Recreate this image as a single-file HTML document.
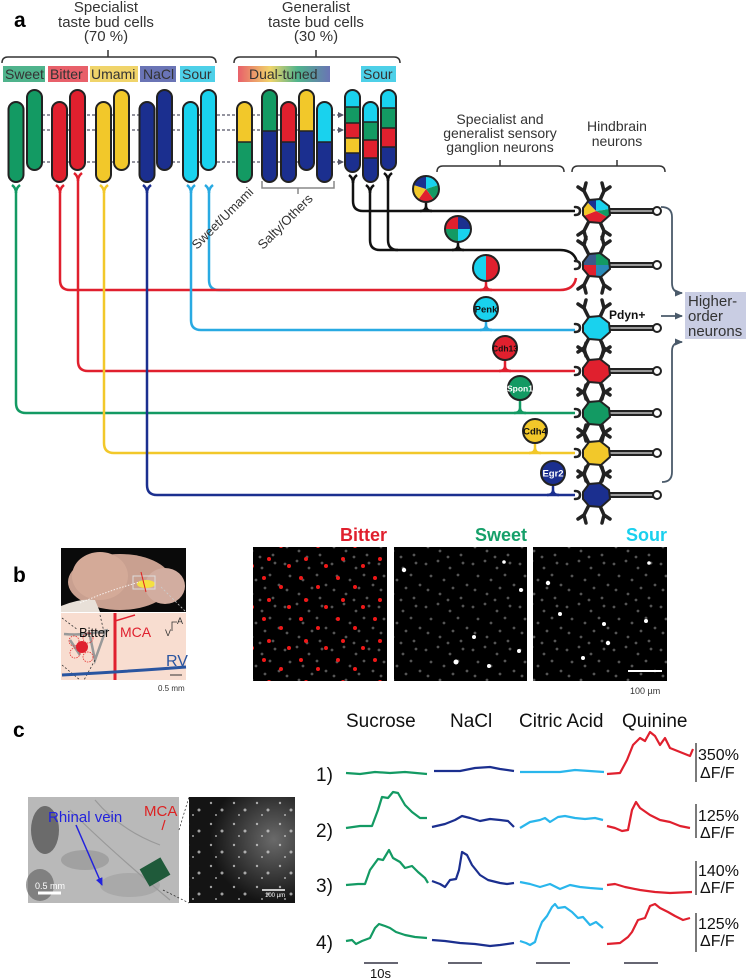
<!DOCTYPE html>
<html><head><meta charset="utf-8"><style>
html,body{margin:0;padding:0;background:#fff}
svg{display:block}
text{font-family:"Liberation Sans",sans-serif}
.n{font-family:"Liberation Sans Narrow","Liberation Sans",sans-serif}
</style></head><body>
<svg width="746" height="979" viewBox="0 0 746 979" xmlns="http://www.w3.org/2000/svg">
<defs>
<linearGradient id="dual" x1="0" x2="1" y1="0" y2="0">
<stop offset="0" stop-color="#e8606a"/><stop offset="0.35" stop-color="#f0d46a"/><stop offset="0.65" stop-color="#4fb38c"/><stop offset="1" stop-color="#6a74b5"/></linearGradient>
<marker id="ar" markerUnits="userSpaceOnUse" markerWidth="6" markerHeight="6" refX="5" refY="3" orient="auto"><path d="M0,0 L6,3 L0,6 Z" fill="#556"/></marker>
<marker id="ar2" markerUnits="userSpaceOnUse" markerWidth="8" markerHeight="8" refX="7" refY="4" orient="auto"><path d="M0,0.5 L8,4 L0,7.5 Z" fill="#4a5a6a"/></marker>
<marker id="ar3" markerUnits="userSpaceOnUse" markerWidth="8" markerHeight="8" refX="7" refY="4" orient="auto"><path d="M0,0.5 L8,4 L0,7.5 Z" fill="#2222dd"/></marker>
<g id="nd" stroke="#222" fill="none" stroke-linecap="round">
<path d="M-7,-10 L-12,-20 L-18,-24 M-12,-20 L-10,-28 M4,-11 L8,-20 L14,-24 M8,-20 L6,-28 M-7,10 L-12,20 L-18,24 M-12,20 L-10,28 M4,11 L8,20 L14,24 M8,20 L6,28" stroke-width="3.5"/>
<path d="M-21,-4 Q-16,-4 -16,0 Q-16,4 -21,4" stroke-width="2.5"/>
<path d="M12,0 H58" stroke-width="6"/><path d="M12,0 H58" stroke="#999" stroke-width="2"/>
<circle cx="61" cy="0" r="4" fill="#fff" stroke-width="2"/>
</g>
<clipPath id="bodyc"><polygon points="-13,-3 -7,-11 4,-12 13,-5 14,4 5,12 -7,11 -13,4"/></clipPath>
<pattern id="gd" width="47" height="43" patternUnits="userSpaceOnUse">
<g fill="#555"><circle cx="3" cy="5" r="1.4"/><circle cx="15" cy="2" r="1.4"/><circle cx="27" cy="9" r="1.4"/><circle cx="40" cy="4" r="1.4"/><circle cx="8" cy="17" r="1.4"/><circle cx="21" cy="21" r="1.4"/><circle cx="35" cy="16" r="1.4"/><circle cx="44" cy="26" r="1.4"/><circle cx="5" cy="31" r="1.4"/><circle cx="17" cy="35" r="1.4"/><circle cx="30" cy="29" r="1.4"/><circle cx="38" cy="39" r="1.4"/><circle cx="25" cy="41" r="1.4"/></g></pattern>
<pattern id="rd" width="37" height="41" patternUnits="userSpaceOnUse">
<g fill="#f01818"><circle cx="5" cy="4" r="2"/><circle cx="22" cy="13" r="2"/><circle cx="10" cy="26" r="2"/><circle cx="30" cy="33" r="2"/></g></pattern>
<pattern id="wd" width="23" height="21" patternUnits="userSpaceOnUse">
<g fill="#ddd"><circle cx="4" cy="5" r="1.2"/><circle cx="15" cy="12" r="1.5"/><circle cx="9" cy="17" r="1"/></g></pattern>
<radialGradient id="fl" cx="0.8" cy="0.4" r="0.6"><stop offset="0" stop-color="#6a6a6a"/><stop offset="1" stop-color="#141414"/></radialGradient>
</defs>

<text x="14" y="27" font-size="21" font-weight="bold">a</text>
<g font-size="15" fill="#333" text-anchor="middle">
<text x="106" y="12">Specialist</text><text x="106" y="27">taste bud cells</text><text x="106" y="41">(70 %)</text>
<text x="316" y="12">Generalist</text><text x="316" y="27">taste bud cells</text><text x="316" y="41">(30 %)</text>
</g>
<g fill="none" stroke="#333" stroke-width="1.5">
<path d="M2,63 Q2,57 8,57 H210 Q216,57 216,63 M108,57 V50"/>
<path d="M234,63 Q234,57 240,57 H394 Q400,57 400,63 M316,57 V50"/>
</g>
<g font-size="14" fill="#333">
<rect x="3" y="66" width="42" height="16" fill="#4fb38c"/><text x="5" y="79">Sweet</text>
<rect x="48" y="66" width="40" height="16" fill="#e8606a"/><text x="50" y="79">Bitter</text>
<rect x="90" y="66" width="48" height="16" fill="#f0d46a"/><text x="91" y="79">Umami</text>
<rect x="140" y="66" width="36" height="16" fill="#6a74b5"/><text x="143" y="79">NaCl</text>
<rect x="180" y="66" width="35" height="16" fill="#4dd0e8"/><text x="182" y="79">Sour</text>
<rect x="238" y="66" width="92" height="16" fill="url(#dual)"/><text x="249" y="79">Dual-tuned</text>
<rect x="361" y="66" width="35" height="16" fill="#4dd0e8"/><text x="363" y="79">Sour</text>
</g>

<g fill="none" stroke-width="2.5">
<path d="M209,192 V280 Q209,290 219,290 H230" stroke="#29aae2"/>
<path d="M16,192 V403 Q16,413 26,413 H575" stroke="#139a63"/>
<path d="M60,192 V280 Q60,290 70,290 H560 Q574,290 576,278" stroke="#e0202e"/>
<path d="M78,180 V361 Q78,371 88,371 H575" stroke="#e0202e"/>
<path d="M104,192 V443 Q104,453 114,453 H575" stroke="#f2c82a"/>
<path d="M147,192 V485 Q147,495 157,495 H575" stroke="#1b2f8f"/>
<path d="M191,192 V320 Q191,330 201,330 H575" stroke="#29aae2"/>
</g>
<g fill="none" stroke="#111" stroke-width="2.5">
<path d="M353,180 V201 Q353,211 363,211 H575"/>
<path d="M370,190 V240 Q370,250 380,250 H560 Q574,250 577,262"/>
<path d="M388,178 V240 Q388,250 398,250"/>
</g>
<g fill="none" stroke-width="2.5">
<path d="M12,185 Q16,188 16,193 Q16,188 20,185" stroke="#139a63"/>
<path d="M56,185 Q60,188 60,193 Q60,188 64,185" stroke="#e0202e"/>
<path d="M74,173 Q78,176 78,181 Q78,176 82,173" stroke="#e0202e"/>
<path d="M100,185 Q104,188 104,193 Q104,188 108,185" stroke="#f2c82a"/>
<path d="M143,185 Q147,188 147,193 Q147,188 151,185" stroke="#1b2f8f"/>
<path d="M187,185 Q191,188 191,193 Q191,188 195,185" stroke="#29aae2"/>
<path d="M205,185 Q209,188 209,193 Q209,188 213,185" stroke="#29aae2"/>
<path d="M349,175 Q353,178 353,183 Q353,178 357,175" stroke="#111"/>
<path d="M366,185 Q370,188 370,193 Q370,188 374,185" stroke="#111"/>
<path d="M384,173 Q388,176 388,181 Q388,176 392,173" stroke="#111"/>
</g>

<g stroke="#556" stroke-width="1.3" stroke-dasharray="3,2" marker-end="url(#ar)">
<line x1="42" y1="115" x2="343" y2="115"/><line x1="42" y1="130" x2="343" y2="130"/><line x1="42" y1="162" x2="343" y2="162"/>
</g>

<g stroke="#222" stroke-width="2">
<rect x="8.5" y="102" width="15" height="80" rx="7.5" fill="#139a63"/>
<rect x="27" y="90" width="15" height="80" rx="7.5" fill="#139a63"/>
<rect x="52" y="102" width="15" height="80" rx="7.5" fill="#e0202e"/>
<rect x="70" y="90" width="15" height="80" rx="7.5" fill="#e0202e"/>
<rect x="96" y="102" width="15" height="80" rx="7.5" fill="#f2c82a"/>
<rect x="114" y="90" width="15" height="80" rx="7.5" fill="#f2c82a"/>
<rect x="139.5" y="102" width="15" height="80" rx="7.5" fill="#1b2f8f"/>
<rect x="157" y="90" width="15" height="80" rx="7.5" fill="#1b2f8f"/>
<rect x="183" y="102" width="15" height="80" rx="7.5" fill="#19d2ee"/>
<rect x="201" y="90" width="15" height="80" rx="7.5" fill="#19d2ee"/>
</g>
<clipPath id="c1"><rect x="237" y="102" width="15" height="80" rx="7.5"/></clipPath>
<clipPath id="c2"><rect x="262" y="90" width="15" height="92" rx="7.5"/></clipPath>
<clipPath id="c3"><rect x="281" y="102" width="15" height="80" rx="7.5"/></clipPath>
<clipPath id="c4"><rect x="299" y="90" width="15" height="80" rx="7.5"/></clipPath>
<clipPath id="c5"><rect x="317" y="102" width="15" height="80" rx="7.5"/></clipPath>
<clipPath id="s1"><rect x="345" y="90" width="15" height="82" rx="7.5"/></clipPath>
<clipPath id="s2"><rect x="363" y="102" width="15" height="80" rx="7.5"/></clipPath>
<clipPath id="s3"><rect x="381" y="90" width="15" height="80" rx="7.5"/></clipPath>
<g clip-path="url(#c1)"><rect x="237" y="100" width="15" height="42" fill="#f2c82a"/><rect x="237" y="142" width="15" height="42" fill="#139a63"/></g>
<g clip-path="url(#c2)"><rect x="262" y="88" width="15" height="43" fill="#139a63"/><rect x="262" y="131" width="15" height="53" fill="#1b2f8f"/></g>
<g clip-path="url(#c3)"><rect x="281" y="100" width="15" height="42" fill="#e0202e"/><rect x="281" y="142" width="15" height="42" fill="#1b2f8f"/></g>
<g clip-path="url(#c4)"><rect x="299" y="88" width="15" height="43" fill="#f2c82a"/><rect x="299" y="131" width="15" height="41" fill="#1b2f8f"/></g>
<g clip-path="url(#c5)"><rect x="317" y="100" width="15" height="42" fill="#19d2ee"/><rect x="317" y="142" width="15" height="42" fill="#1b2f8f"/></g>
<g clip-path="url(#s1)"><rect x="345" y="88" width="15" height="19" fill="#19d2ee"/><rect x="345" y="107" width="15" height="16" fill="#139a63"/><rect x="345" y="123" width="15" height="15" fill="#e0202e"/><rect x="345" y="138" width="15" height="15" fill="#f2c82a"/><rect x="345" y="153" width="15" height="21" fill="#1b2f8f"/></g>
<g clip-path="url(#s2)"><rect x="363" y="100" width="15" height="22" fill="#19d2ee"/><rect x="363" y="122" width="15" height="18" fill="#139a63"/><rect x="363" y="140" width="15" height="18" fill="#e0202e"/><rect x="363" y="158" width="15" height="26" fill="#1b2f8f"/></g>
<g clip-path="url(#s3)"><rect x="381" y="88" width="15" height="20" fill="#19d2ee"/><rect x="381" y="108" width="15" height="20" fill="#139a63"/><rect x="381" y="128" width="15" height="19" fill="#e0202e"/><rect x="381" y="147" width="15" height="25" fill="#1b2f8f"/></g>
<g stroke="#222" stroke-width="1.5">
<line x1="237" y1="142" x2="252" y2="142"/><line x1="262" y1="131" x2="277" y2="131"/><line x1="281" y1="142" x2="296" y2="142"/><line x1="299" y1="131" x2="314" y2="131"/><line x1="317" y1="142" x2="332" y2="142"/>
<line x1="345" y1="107" x2="360" y2="107"/><line x1="345" y1="123" x2="360" y2="123"/><line x1="345" y1="138" x2="360" y2="138"/><line x1="345" y1="153" x2="360" y2="153"/>
<line x1="363" y1="122" x2="378" y2="122"/><line x1="363" y1="140" x2="378" y2="140"/><line x1="363" y1="158" x2="378" y2="158"/>
<line x1="381" y1="108" x2="396" y2="108"/><line x1="381" y1="128" x2="396" y2="128"/><line x1="381" y1="147" x2="396" y2="147"/>
</g>
<g stroke="#222" stroke-width="2" fill="none">
<rect x="237" y="102" width="15" height="80" rx="7.5"/><rect x="262" y="90" width="15" height="92" rx="7.5"/><rect x="281" y="102" width="15" height="80" rx="7.5"/><rect x="299" y="90" width="15" height="80" rx="7.5"/><rect x="317" y="102" width="15" height="80" rx="7.5"/>
<rect x="345" y="90" width="15" height="82" rx="7.5"/><rect x="363" y="102" width="15" height="80" rx="7.5"/><rect x="381" y="90" width="15" height="80" rx="7.5"/>
</g>
<path d="M262,181 V188 H334 V181 M298,188 V194" fill="none" stroke="#888" stroke-width="1.5"/>
<text x="197" y="250" font-size="13" fill="#333" transform="rotate(-45 197 250)">Sweet/Umami</text>
<text x="263" y="250" font-size="13" fill="#333" transform="rotate(-45 263 250)">Salty/Others</text>

<g font-size="14" fill="#333" text-anchor="middle">
<text x="500" y="124">Specialist and</text><text x="500" y="138">generalist sensory</text><text x="500" y="152">ganglion neurons</text>
<text x="617" y="131">Hindbrain</text><text x="617" y="146">neurons</text>
</g>
<g fill="none" stroke="#333" stroke-width="1.5">
<path d="M437,172 Q437,166 443,166 H558 Q564,166 564,172 M500,166 V160"/>
<path d="M572,172 Q572,166 578,166 H659 Q665,166 665,172 M617,166 V160"/>
</g>

<g fill="none" stroke-width="2.5">
<path d="M426,201 V206 Q426,211 420,211 M426,206 Q426,211 432,211" stroke="#111"/>
<path d="M458,241 V245 Q458,250 452,250 M458,245 Q458,250 464,250" stroke="#111"/>
<path d="M486,280 V285 Q486,290 480,290 M486,285 Q486,290 492,290" stroke="#e0202e"/>
<path d="M486,320 V325 Q486,330 480,330 M486,325 Q486,330 492,330" stroke="#29aae2"/>
<path d="M505,359 V366 Q505,371 499,371 M505,366 Q505,371 511,371" stroke="#e0202e"/>
<path d="M520,399 V408 Q520,413 514,413 M520,408 Q520,413 526,413" stroke="#139a63"/>
<path d="M535,442 V448 Q535,453 529,453 M535,448 Q535,453 541,453" stroke="#f2c82a"/>
<path d="M553,484 V490 Q553,495 547,495 M553,490 Q553,495 559,495" stroke="#1b2f8f"/>
</g>
<g stroke="none">
<path d="M426,189 L426,176 A13,13 0 0 1 438.36,184.98 Z" fill="#19d2ee"/>
<path d="M426,189 L438.36,184.98 A13,13 0 0 1 433.64,199.52 Z" fill="#139a63"/>
<path d="M426,189 L433.64,199.52 A13,13 0 0 1 418.36,199.52 Z" fill="#e0202e"/>
<path d="M426,189 L418.36,199.52 A13,13 0 0 1 413.64,184.98 Z" fill="#f2c82a"/>
<path d="M426,189 L413.64,184.98 A13,13 0 0 1 426,176 Z" fill="#1b2f8f"/>
<path d="M458,229 L445,229 A13,13 0 0 1 458,216 Z" fill="#e0202e"/>
<path d="M458,229 L458,216 A13,13 0 0 1 471,229 Z" fill="#1b2f8f"/>
<path d="M458,229 L471,229 A13,13 0 0 1 458,242 Z" fill="#19d2ee"/>
<path d="M458,229 L458,242 A13,13 0 0 1 445,229 Z" fill="#139a63"/>
<path d="M486,255 A13,13 0 0 0 486,281 Z" fill="#19d2ee"/>
<path d="M486,255 A13,13 0 0 1 486,281 Z" fill="#e0202e"/>
</g>
<g fill="none" stroke="#222" stroke-width="2"><circle cx="426" cy="189" r="13"/><circle cx="458" cy="229" r="13"/><circle cx="486" cy="268" r="13"/></g>
<g stroke="#222" stroke-width="2">
<circle cx="486" cy="309" r="12" fill="#19d2ee"/><circle cx="505" cy="348" r="12" fill="#e0202e"/><circle cx="520" cy="388" r="12" fill="#139a63"/><circle cx="535" cy="431" r="12" fill="#f2c82a"/><circle cx="553" cy="473" r="12" fill="#1b2f8f"/>
</g>
<g class="n" font-size="9.5" font-weight="bold" text-anchor="middle">
<text x="486" y="312.5" fill="#111">Penk</text><text x="505" y="351.5" fill="#111" font-size="8.5">Cdh13</text><text x="520" y="391.5" fill="#fff" font-size="8.5">Spon1</text><text x="535" y="434.5" fill="#111">Cdh4</text><text x="553" y="476.5" fill="#fff">Egr2</text>
</g>

<g transform="translate(596,211)"><use href="#nd"/><g clip-path="url(#bodyc)"><polygon points="0,0 -15,-15 0,-15" fill="#1b2f8f"/><polygon points="0,0 0,-15 15,-15 15,-2" fill="#19d2ee"/><polygon points="0,0 15,-2 15,8" fill="#139a63"/><polygon points="0,0 15,8 15,15 -15,15 -15,6" fill="#e0202e"/><polygon points="0,0 -15,6 -15,-15" fill="#f2c82a"/></g><polygon points="-13,-3 -7,-11 4,-12 13,-5 14,4 5,12 -7,11 -13,4" fill="none" stroke="#222" stroke-width="2"/></g>
<g transform="translate(596,265)"><use href="#nd"/><g clip-path="url(#bodyc)"><rect x="-15" y="-15" width="15" height="15" fill="#3a5a8a"/><rect x="0" y="-15" width="15" height="15" fill="#139a63"/><rect x="-15" y="0" width="15" height="15" fill="#e0202e"/><rect x="0" y="0" width="15" height="15" fill="#2a8ab8"/></g><polygon points="-13,-3 -7,-11 4,-12 13,-5 14,4 5,12 -7,11 -13,4" fill="none" stroke="#222" stroke-width="2"/></g>
<g transform="translate(596,328)"><use href="#nd"/><polygon points="-13,-3 -7,-11 4,-12 13,-5 14,4 5,12 -7,11 -13,4" fill="#19d2ee" stroke="#222" stroke-width="2"/></g>
<g transform="translate(596,371)"><use href="#nd"/><polygon points="-13,-3 -7,-11 4,-12 13,-5 14,4 5,12 -7,11 -13,4" fill="#e0202e" stroke="#222" stroke-width="2"/></g>
<g transform="translate(596,413)"><use href="#nd"/><polygon points="-13,-3 -7,-11 4,-12 13,-5 14,4 5,12 -7,11 -13,4" fill="#139a63" stroke="#222" stroke-width="2"/></g>
<g transform="translate(596,453)"><use href="#nd"/><polygon points="-13,-3 -7,-11 4,-12 13,-5 14,4 5,12 -7,11 -13,4" fill="#f2c82a" stroke="#222" stroke-width="2"/></g>
<g transform="translate(596,495)"><use href="#nd"/><polygon points="-13,-3 -7,-11 4,-12 13,-5 14,4 5,12 -7,11 -13,4" fill="#1b2f8f" stroke="#222" stroke-width="2"/></g>
<text x="609" y="319" class="n" font-size="12" font-weight="bold" fill="#111">Pdyn+</text>

<g fill="none" stroke="#4a5a6a" stroke-width="1.8">
<path d="M661,207 Q672,207 672,217 V283 Q672,293 682,293" marker-end="url(#ar2)"/>
<path d="M661,316 H682" marker-end="url(#ar2)"/>
<path d="M662,482 Q672,482 672,472 V351 Q672,342 682,342" marker-end="url(#ar2)"/>
</g>
<rect x="685" y="292" width="61" height="47" fill="#c9cde3"/>
<g font-size="15" fill="#333"><text x="688" y="306">Higher-</text><text x="688" y="321">order</text><text x="688" y="336">neurons</text></g>

<text x="13" y="582" font-size="21" font-weight="bold">b</text>
<rect x="61" y="548" width="125" height="64" fill="#0a0a0a"/>
<ellipse cx="120" cy="582" rx="52" ry="28" fill="#c9a090"/>
<ellipse cx="165" cy="586" rx="20" ry="18" fill="#d2ada0"/>
<ellipse cx="100" cy="576" rx="28" ry="24" fill="#d4aa98"/>
<path d="M61,606 Q80,598 95,600 L100,612 H61 Z" fill="#e8e0d8"/>
<ellipse cx="146" cy="584" rx="9" ry="4" fill="#f5e040"/>
<rect x="133" y="576" width="22" height="13" fill="none" stroke="#ddd" stroke-width="1"/>
<line x1="141" y1="572" x2="146" y2="592" stroke="#e02020" stroke-width="1"/>
<path d="M80,603 Q110,590 140,582" fill="none" stroke="#fff" stroke-width="0.8" stroke-dasharray="1.5,1.5"/>
<line x1="161" y1="587" x2="186" y2="612" stroke="#ccc" stroke-width="0.8" stroke-dasharray="2,2"/>
<rect x="61" y="613" width="125" height="67" fill="#f8ddd0"/>
<g fill="none" stroke="#999" stroke-width="2.5"><path d="M64,634 Q85,636 108,630 M90,636 L95,660 L105,632 M70,640 L80,655"/></g>
<g fill="none" stroke="#e63030" stroke-width="0.8" stroke-dasharray="1.5,1"><circle cx="74" cy="641" r="5"/><circle cx="88" cy="638" r="5"/><circle cx="75" cy="653" r="5"/><circle cx="88" cy="657" r="5"/></g>
<circle cx="82" cy="647" r="6" fill="#e0202e"/>
<g fill="none" stroke="#333" stroke-width="0.8" stroke-dasharray="2,2"><path d="M62,618 L78,630 M100,615 L104,632 M62,665 L80,680 M95,660 L84,680"/></g>
<line x1="115" y1="613" x2="115" y2="680" stroke="#e0202e" stroke-width="3"/>
<line x1="115" y1="621" x2="135" y2="615" stroke="#e0202e" stroke-width="1.5"/>
<path d="M62,675 Q120,672 186,667" fill="none" stroke="#2a55a0" stroke-width="3"/>
<text x="79" y="637" font-size="13" fill="#111">Bitter</text>
<text x="120" y="637" font-size="14" fill="#e0202e">MCA</text>
<path d="M172,631 V622 H177" fill="none" stroke="#333" stroke-width="0.8"/>
<text x="177" y="624" font-size="9" fill="#333">A</text><text x="165" y="636" font-size="9" fill="#333">V</text>
<text x="166" y="666" font-size="16" fill="#2a55a0">RV</text>
<line x1="170" y1="675" x2="182" y2="675" stroke="#333" stroke-width="1"/>
<text x="158" y="691" font-size="8" fill="#333">0.5 mm</text>

<rect x="253" y="547" width="134" height="134" fill="#000"/><rect x="253" y="547" width="134" height="134" fill="url(#gd)"/><rect x="253" y="547" width="134" height="134" fill="url(#rd)"/>
<rect x="394" y="547" width="133" height="134" fill="#000"/><rect x="394" y="547" width="133" height="134" fill="url(#gd)"/>
<rect x="533" y="547" width="134" height="134" fill="#000"/><rect x="533" y="547" width="134" height="134" fill="url(#gd)"/>
<g fill="#fff"><circle cx="404" cy="570" r="2.2"/><circle cx="504" cy="562" r="1.8"/><circle cx="521" cy="590" r="2"/><circle cx="474" cy="637" r="2"/><circle cx="456" cy="662" r="2.5"/><circle cx="489" cy="666" r="2"/><circle cx="519" cy="651" r="2"/>
<circle cx="548" cy="583" r="2.2"/><circle cx="649" cy="563" r="1.8"/><circle cx="560" cy="614" r="2"/><circle cx="604" cy="624" r="2"/><circle cx="608" cy="643" r="2.2"/><circle cx="646" cy="621" r="2"/><circle cx="583" cy="658" r="2"/></g>
<line x1="628" y1="671" x2="662" y2="671" stroke="#fff" stroke-width="2"/>
<g class="n" font-size="18" font-weight="bold" text-anchor="end">
<text x="387" y="541" fill="#e0202e">Bitter</text><text x="527" y="541" fill="#16a06a">Sweet</text><text x="667" y="541" fill="#1ad0ee">Sour</text></g>
<text x="630" y="694" font-size="9" fill="#333" class="n">100 µm</text>

<text x="13" y="737" font-size="21" font-weight="bold">c</text>
<rect x="28" y="797" width="151" height="106" fill="#b9b9b9"/>
<ellipse cx="45" cy="830" rx="14" ry="24" fill="#4a4a4a" opacity="0.7"/>
<ellipse cx="40" cy="885" rx="14" ry="16" fill="#5a5a5a" opacity="0.6"/>
<ellipse cx="85" cy="860" rx="24" ry="10" fill="#8a8a8a" opacity="0.5"/>
<ellipse cx="130" cy="885" rx="30" ry="12" fill="#999" opacity="0.5"/>
<path d="M95,800 Q120,830 160,845 M70,810 Q110,850 170,900" fill="none" stroke="#999" stroke-width="1.2"/>
<rect x="143" y="862" width="24" height="20" fill="#1f5a3a" transform="rotate(-30 155 872)"/>
<text x="48" y="822" class="n" font-size="15" fill="#2222dd">Rhinal vein</text>
<text x="144" y="816" class="n" font-size="15" fill="#dd2222">MCA</text>
<line x1="165" y1="820" x2="162" y2="830" stroke="#dd2222" stroke-width="1.2"/>
<line x1="76" y1="825" x2="102" y2="885" stroke="#2222dd" stroke-width="1.5" marker-end="url(#ar3)"/>
<line x1="38" y1="893" x2="61" y2="893" stroke="#fff" stroke-width="3"/>
<text x="35" y="889" font-size="9" fill="#fff">0.5 mm</text>
<path d="M179,830 L189,797 M163,890 L189,903" stroke="#222" stroke-width="0.7" stroke-dasharray="2,2"/>
<rect x="189" y="797" width="106" height="106" fill="url(#fl)"/>
<rect x="189" y="797" width="106" height="106" fill="url(#wd)" opacity="0.7"/>
<line x1="262" y1="890" x2="285" y2="890" stroke="#fff" stroke-width="1.5"/>
<text x="265" y="897" font-size="6" fill="#fff">100 µm</text>

<g class="n" font-size="19" fill="#111">
<text x="346" y="727">Sucrose</text><text x="450" y="727">NaCl</text><text x="519" y="727">Citric Acid</text><text x="622" y="727">Quinine</text>
<text x="316" y="781">1)</text><text x="316" y="837">2)</text><text x="316" y="892">3)</text><text x="316" y="949">4)</text>
</g>
<g fill="none" stroke-width="2.2" stroke-linejoin="round">
<g stroke="#139a63">
<path d="M346,773 L360,774 L375,772 L390,773 L405,772 L427,774"/>
<path d="M346,828 L360,826 L372,826 L378,810 L382,797 L388,798 L393,792 L398,793 L405,805 L412,812 L420,818 L427,818"/>
<path d="M346,885 L358,884 L365,884 L370,870 L378,859 L383,860 L389,850 L393,858 L400,862 L405,868 L412,866 L418,872 L425,878 L428,883"/>
<path d="M346,941 L352,940 L356,944 L362,941 L370,938 L375,928 L379,924 L385,926 L390,928 L396,932 L405,935 L415,937 L427,938"/>
</g>
<g stroke="#1b2f8f">
<path d="M434,771 L460,771 L475,768 L490,767 L500,769 L514,771"/>
<path d="M432,827 L445,824 L455,820 L462,816 L470,818 L480,821 L490,819 L500,820 L508,821 L514,827"/>
<path d="M432,881 L440,884 L445,887 L450,880 L456,879 L459,870 L462,852 L467,855 L472,865 L480,875 L488,880 L500,883 L507,884 L514,883"/>
<path d="M432,940 L445,941 L460,943 L475,944 L490,946 L500,945 L514,943"/>
</g>
<g stroke="#29b6ec">
<path d="M520,772 L560,772 L575,770 L604,772"/>
<path d="M520,828 L530,822 L540,820 L545,818 L550,822 L558,817 L565,816 L575,818 L585,819 L595,818 L603,820"/>
<path d="M520,882 L530,884 L540,887 L550,884 L560,889 L570,885 L580,887 L590,888 L603,889"/>
<path d="M520,941 L526,943 L530,945 L535,942 L538,932 L542,922 L547,916 L552,907 L555,904 L558,908 L565,907 L572,912 L578,918 L583,917 L590,925 L596,922 L603,928"/>
</g>
<g stroke="#e0202e">
<path d="M607,774 L620,773 L627,760 L633,745 L640,738 L645,741 L650,732 L655,736 L660,745 L665,738 L670,748 L680,752 L690,756 L693,749"/>
<path d="M607,826 L615,828 L622,831 L628,830 L632,810 L636,802 L640,808 L650,815 L660,820 L670,822 L680,826 L690,828"/>
<path d="M607,885 L615,884 L625,887 L640,890 L655,892 L670,893 L692,892"/>
<path d="M607,944 L620,943 L628,937 L632,932 L638,920 L645,918 L650,906 L655,904 L660,908 L668,912 L675,916 L683,920 L690,918"/>
</g>
</g>
<g stroke="#222" stroke-width="1.2">
<line x1="696" y1="743" x2="696" y2="782"/><line x1="696" y1="804" x2="696" y2="838"/><line x1="696" y1="861" x2="696" y2="895"/><line x1="696" y1="913" x2="696" y2="952"/>
</g>
<g class="n" font-size="16" fill="#111">
<text x="698" y="760">350%</text><text x="700" y="778">ΔF/F</text>
<text x="698" y="821">125%</text><text x="700" y="838">ΔF/F</text>
<text x="698" y="876">140%</text><text x="700" y="893">ΔF/F</text>
<text x="698" y="929">125%</text><text x="700" y="946">ΔF/F</text>
</g>
<g stroke="#334" stroke-width="1.5">
<line x1="364" y1="963" x2="398" y2="963"/><line x1="448" y1="963" x2="482" y2="963"/><line x1="536" y1="963" x2="570" y2="963"/><line x1="624" y1="963" x2="658" y2="963"/>
</g>
<text x="370" y="978" class="n" font-size="13" fill="#111">10s</text>
</svg>
</body></html>
